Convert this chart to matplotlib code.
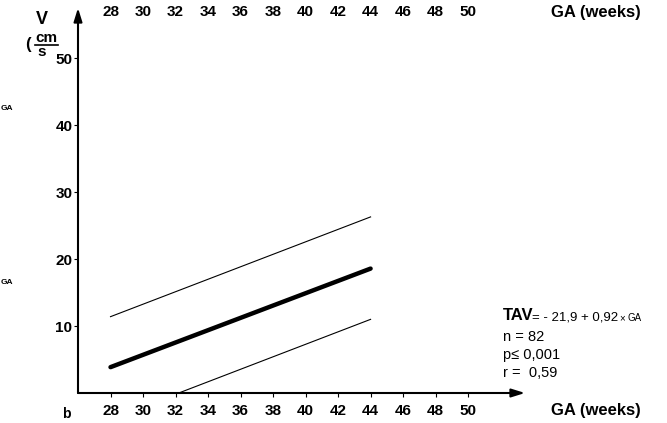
import matplotlib
matplotlib.use("Agg")
import matplotlib.pyplot as plt
from matplotlib.transforms import blended_transform_factory

# Regression of TAV on gestational age: TAV = -21.9 + 0.92 x GA
intercept = -21.9
slope = 0.92
ga_range = [28, 44]
upper_band = [11.4, 26.3]
lower_ga = [32.2, 44]
lower_band = [0.0, 11.0]

x_ticks = [28, 30, 32, 34, 36, 38, 40, 42, 44, 46, 48, 50]
y_ticks = [10, 20, 30, 40, 50]
stats_lines = ["n = 82", "p\u2264 0,001", "r =  0,59"]

W, H = 667, 423
fig = plt.figure(figsize=(W / 100, H / 100), dpi=100)
plt.rcParams["font.family"] = ["Liberation Sans", "DejaVu Sans"]

ax_left, ax_right, ax_bottom, ax_top = 78, 525, 393, 8
ax = fig.add_axes([ax_left / W, (H - ax_bottom) / H,
                   (ax_right - ax_left) / W, (ax_bottom - ax_top) / H])
ax.set_xlim(26, 53.5)
ax.set_ylim(0, 57.5)
for s in ax.spines.values():
    s.set_visible(False)

# axes drawn as arrows
ax.annotate("", xy=(1.0, 0), xytext=(0, 0), xycoords="axes fraction",
            arrowprops=dict(arrowstyle="-|>,head_length=0.8,head_width=0.25",
                            lw=1.5, color="black", shrinkA=0, shrinkB=0))
ax.annotate("", xy=(0, 1.0), xytext=(0, 0), xycoords="axes fraction",
            arrowprops=dict(arrowstyle="-|>,head_length=0.8,head_width=0.25",
                            lw=1.5, color="black", shrinkA=0, shrinkB=0))

ax.set_xticks(x_ticks)
ax.set_xticklabels([str(t) for t in x_ticks], fontsize=11, fontweight="bold")
ax.set_yticks(y_ticks)
ax.set_yticklabels([str(t) for t in y_ticks], fontsize=11, fontweight="bold")
ax.tick_params(axis="x", direction="out", length=3, width=0.8, pad=5)
ax.tick_params(axis="y", direction="out", length=3, width=0.8, pad=1)

# regression line and band
mean_vals = [intercept + slope * g for g in ga_range]
ax.plot(ga_range, mean_vals, color="black", lw=3.2, solid_capstyle="round")
ax.plot(ga_range, upper_band, color="black", lw=0.8)
ax.plot(lower_ga, lower_band, color="black", lw=0.8)

fx = lambda px: px / W
fy = lambda py: 1 - py / H

# axis titles
fig.text(fx(551), fy(410), "GA (weeks)", fontsize=12, fontweight="bold",
         ha="left", va="center")
fig.text(fx(42), fy(19), "V", fontsize=13, fontweight="bold", ha="center", va="center")
fig.text(fx(28), fy(44), "(", fontsize=12, fontweight="bold", ha="center", va="center")
fig.text(fx(46), fy(38), "cm", fontsize=11, fontweight="bold", ha="center", va="center")
fig.add_artist(plt.Line2D([fx(35), fx(58)], [fy(45), fy(45)], color="black", lw=1.2))
fig.text(fx(42), fy(52), "s", fontsize=11, fontweight="bold", ha="center", va="center")

# axis labels of the panel above
trans_top = blended_transform_factory(ax.transData, fig.transFigure)
for t in x_ticks:
    ax.text(t, fy(12), str(t), transform=trans_top, fontsize=11,
            fontweight="bold", ha="center", va="center", clip_on=False)
fig.text(fx(551), fy(12), "GA (weeks)", fontsize=12, fontweight="bold",
         ha="left", va="center")
fig.text(fx(1), fy(108), "GA", fontsize=6, fontweight="bold", ha="left", va="center")
fig.text(fx(1), fy(282), "GA", fontsize=6, fontweight="bold", ha="left", va="center")
fig.text(fx(66), fy(414), "b", fontsize=10, fontweight="bold", ha="center", va="center")

# regression statistics
fig.text(fx(503), fy(316), "TAV", fontsize=12, fontweight="bold", ha="left", va="center")
fig.text(fx(532), fy(317), "= - 21,9 + 0,92", fontsize=9.5, ha="left", va="center")
fig.text(fx(619), fy(318), "\u00d7", fontsize=7, ha="left", va="center")
fig.text(fx(627), fy(318), "GA", fontsize=7, ha="left", va="center")
for i, line in enumerate(stats_lines):
    fig.text(fx(503), fy(337 + 18 * i), line, fontsize=10.5, ha="left", va="center")

fig.savefig("out.png", dpi=100)
